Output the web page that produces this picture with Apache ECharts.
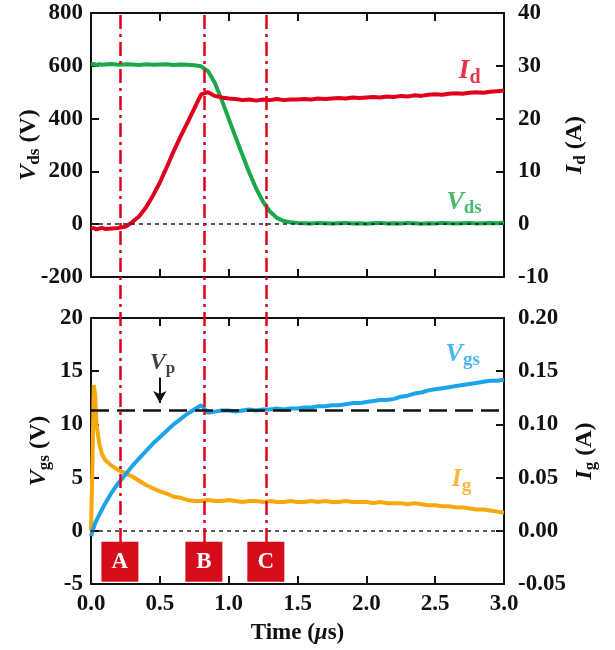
<!DOCTYPE html>
<html>
<head>
<meta charset="utf-8">
<script src="https://cdn.jsdelivr.net/npm/echarts@6/dist/echarts.min.js"></script>
<style>
  html, body { margin: 0; padding: 0; background: #fff; }
  #chart { width: 615px; height: 650px; }
</style>
</head>
<body>
<div id="chart"></div>
<script>
// time axis (µs)
var timeUs = [0, 0.01, 0.02, 0.03, 0.04, 0.06, 0.08, 0.10,
  0.15, 0.20, 0.25, 0.30, 0.35, 0.40, 0.45, 0.50, 0.55, 0.60, 0.65, 0.70, 0.75,
  0.80, 0.85, 0.90, 0.95, 1.00, 1.05, 1.10, 1.15, 1.20, 1.25, 1.30, 1.35, 1.40,
  1.45, 1.50, 1.55, 1.60, 1.65, 1.70, 1.75, 1.80, 1.85, 1.90, 1.95, 2.00, 2.05,
  2.10, 2.15, 2.20, 2.25, 2.30, 2.35, 2.40, 2.45, 2.50, 2.55, 2.60, 2.65, 2.70,
  2.75, 2.80, 2.85, 2.90, 2.95, 3.00];

// Vds (V) - top, left axis
var vds = [606, 604, 607, 605, 603, 606, 604, 605,
  607, 604, 606, 605, 603, 606, 604, 605, 606, 603, 605, 604, 602,
  598, 580, 535, 470, 400, 330, 262, 195, 135, 85, 48, 24, 12,
  7, 5, 4, 3, 5, 4, 3, 4, 5, 3, 4, 2, 4,
  5, 3, 4, 3, 5, 4, 2, 4, 3, 5, 4, 3, 4,
  5, 3, 4, 5, 4, 6];

// Id (A) - top, right axis
var id = [-0.8, -0.9, -0.7, -0.8, -1.0, -0.8, -0.7, -0.9,
  -0.8, -0.7, -0.5, 0.4, 1.5, 3.2, 5.4, 7.9, 10.8, 13.8, 16.6, 19.2, 21.9,
  24.6, 25.0, 24.3, 24.0, 23.8, 23.7, 23.5, 23.6, 23.4, 23.6, 23.5, 23.7, 23.5,
  23.6, 23.6, 23.7, 23.6, 23.8, 23.7, 23.8, 23.9, 23.8, 24.0, 23.9, 24.0, 24.1,
  24.0, 24.2, 24.1, 24.3, 24.2, 24.4, 24.3, 24.5, 24.6, 24.5, 24.7, 24.8, 24.7,
  24.9, 25.0, 24.9, 25.1, 25.2, 25.3];

// Vgs (V) - bottom, left axis
var vgs = [-0.5, -0.1, 0.3, 0.7, 1.0, 1.5, 2.0, 2.5,
  3.6, 4.5, 5.3, 6.1, 6.8, 7.5, 8.2, 8.8, 9.4, 10.0, 10.5, 11.0, 11.4,
  11.8, 11.1, 11.2, 11.3, 11.3, 11.2, 11.3, 11.4, 11.3, 11.4, 11.4, 11.5, 11.4,
  11.5, 11.5, 11.6, 11.6, 11.7, 11.7, 11.8, 11.8, 11.9, 12.0, 12.0, 12.1, 12.2,
  12.3, 12.3, 12.4, 12.6, 12.7, 12.9, 13.0, 13.2, 13.3, 13.4, 13.5, 13.6, 13.7,
  13.8, 13.9, 14.0, 14.1, 14.1, 14.2];

// Ig (A) - bottom, right axis
var ig = [0.000, 0.060, 0.137, 0.128, 0.100, 0.082, 0.072, 0.067,
  0.061, 0.057, 0.054, 0.051, 0.047, 0.043, 0.040, 0.037, 0.035, 0.032, 0.031, 0.029, 0.028,
  0.028, 0.029, 0.028, 0.028, 0.029, 0.028, 0.027, 0.028, 0.028, 0.027, 0.028, 0.027, 0.027,
  0.028, 0.027, 0.027, 0.028, 0.027, 0.028, 0.027, 0.027, 0.028, 0.027, 0.027, 0.027, 0.026,
  0.027, 0.026, 0.026, 0.026, 0.025, 0.026, 0.025, 0.024, 0.024, 0.023, 0.023, 0.022, 0.022,
  0.021, 0.020, 0.020, 0.019, 0.018, 0.017];

// switching phases
var phaseTimes = [0.21, 0.82, 1.27];
var phaseNames = ['A', 'B', 'C'];
var plateauVgs = 11.3;

var serif = '"Liberation Serif", "Times New Roman", serif';
var RED = '#e0001b', GREEN = '#19a84a', BLUE = '#1ca4ea', ORANGE = '#f6a80c';

function pairs(xs, ys) {
  return xs.map(function (x, i) { return [x, ys[i]]; });
}

// rich styles for V_ds style labels
function richSet(color, big, small) {
  return {
    i: { fontFamily: serif, fontStyle: 'italic', fontWeight: 'bold', fontSize: big, color: color },
    s: { fontFamily: serif, fontWeight: 'bold', fontSize: small, color: color, padding: [Math.round(big * 0.45), 0, 0, 0] },
    n: { fontFamily: serif, fontWeight: 'bold', fontSize: big, color: color }
  };
}

var tickLabel = { fontFamily: serif, fontWeight: 'bold', fontSize: 23, color: '#111' };
var axisLineStyle = { show: true, onZero: false, lineStyle: { color: '#111', width: 2 } };
var tickStyle = { show: true, inside: true, length: 8, lineStyle: { color: '#111', width: 2 } };

function xAx(grid, pos, labels) {
  return {
    type: 'value', gridIndex: grid, position: pos, min: 0, max: 3, interval: 0.5,
    axisLine: axisLineStyle, axisTick: tickStyle, splitLine: { show: false },
    axisLabel: labels ? Object.assign({ margin: 9, formatter: function (v) { return v.toFixed(1); } }, tickLabel) : { show: false }
  };
}

function yAx(grid, pos, min, max, step, digits, name, gap) {
  return {
    type: 'value', gridIndex: grid, position: pos, min: min, max: max, interval: step,
    axisLine: axisLineStyle, axisTick: tickStyle, splitLine: { show: false },
    axisLabel: Object.assign({ margin: pos === 'left' ? 8 : 14, formatter: function (v) { return v.toFixed(digits); } }, tickLabel),
    name: name, nameLocation: 'middle', nameRotate: 90, nameGap: gap, nameMoveOverlap: false,
    nameTextStyle: { rich: richSet('#111', 24, 17) }
  };
}

function tag(x, y, xi, yi, text, color, big, small) {
  return {
    type: 'scatter', xAxisIndex: xi, yAxisIndex: yi, symbolSize: 0, silent: true, z: 5,
    data: [[x, y]],
    label: { show: true, position: 'inside', formatter: text, rich: richSet(color, big, small) }
  };
}

var option = {
  animation: false,
  grid: [
    { left: 91, right: 111, top: 13, height: 264, outerBoundsMode: 'none' },
    { left: 91, right: 111, top: 318, height: 266, outerBoundsMode: 'none' },
    { left: 91, right: 111, top: 12, height: 530, outerBoundsMode: 'none' }   // overlay for the phase lines
  ],
  xAxis: [
    xAx(0, 'bottom', false),
    xAx(0, 'top', false),
    Object.assign(xAx(1, 'bottom', true), {
      name: '{n|Time (}{m|μ}{n|s)}', nameLocation: 'middle', nameGap: 38, nameMoveOverlap: false,
      nameTextStyle: { rich: {
        n: { fontFamily: serif, fontWeight: 'bold', fontSize: 23, color: '#111' },
        m: { fontFamily: serif, fontWeight: 'bold', fontStyle: 'italic', fontSize: 23, color: '#111' }
      } }
    }),
    xAx(1, 'top', false),
    { type: 'value', gridIndex: 2, min: 0, max: 3, show: false }
  ],
  yAxis: [
    yAx(0, 'left', -200, 800, 200, 0, '{i|V}{s|ds}{n| (V)}', 48),
    yAx(0, 'right', -10, 40, 10, 0, '{i|I}{s|d}{n| (A)}', 57),
    yAx(1, 'left', -5, 20, 5, 0, '{i|V}{s|gs}{n| (V)}', 38),
    yAx(1, 'right', -0.05, 0.20, 0.05, 2, '{i|I}{s|g}{n| (A)}', 67),
    { type: 'value', gridIndex: 2, min: 0, max: 1, show: false }
  ],
  series: [
    {
      name: 'Vds', type: 'line', xAxisIndex: 0, yAxisIndex: 0, showSymbol: false,
      data: pairs(timeUs, vds), lineStyle: { color: GREEN, width: 4 }, z: 3,
      markLine: {
        silent: true, symbol: 'none', label: { show: false },
        lineStyle: { color: '#222', type: [4, 4], width: 1.5 },
        data: [{ yAxis: 0 }]
      }
    },
    {
      name: 'Id', type: 'line', xAxisIndex: 0, yAxisIndex: 1, showSymbol: false,
      data: pairs(timeUs, id), lineStyle: { color: RED, width: 4 }, z: 3
    },
    {
      name: 'Ig', type: 'line', xAxisIndex: 2, yAxisIndex: 3, showSymbol: false,
      data: pairs(timeUs, ig), lineStyle: { color: ORANGE, width: 4 }, z: 3,
      markLine: {
        silent: true, symbol: 'none', label: { show: false },
        lineStyle: { color: '#222', type: [4, 4], width: 1.5 },
        data: [{ yAxis: 0 }]
      }
    },
    {
      name: 'Vgs', type: 'line', xAxisIndex: 2, yAxisIndex: 2, showSymbol: false,
      data: pairs(timeUs, vgs), lineStyle: { color: BLUE, width: 4 }, z: 3,
      markLine: {
        silent: true, symbol: 'none', label: { show: false },
        data: [
          { yAxis: plateauVgs, lineStyle: { color: '#111', type: [18, 8], width: 2.5 } },
          [
            { coord: [0.5, 14.4], symbol: 'none', lineStyle: { color: '#111', width: 2, type: 'solid' } },
            { coord: [0.5, 12.0], symbol: 'arrow', symbolSize: [10, 12] }
          ]
        ]
      }
    },
    // vertical dash-dot phase lines across both panels
    {
      type: 'line', xAxisIndex: 4, yAxisIndex: 4, data: [], z: 4,
      markLine: {
        silent: true, symbol: 'none', label: { show: false },
        lineStyle: { color: RED, type: [14, 5, 3, 5], width: 2.5 },
        data: phaseTimes.map(function (t) { return { xAxis: t }; })
      }
    },
    // phase boxes A B C
    {
      type: 'scatter', xAxisIndex: 2, yAxisIndex: 2, symbol: 'rect', symbolSize: [37, 40], z: 6,
      itemStyle: { color: '#d50c1a', opacity: 1 },
      data: phaseTimes.map(function (t, i) { return { value: [t, -2.9], name: phaseNames[i] }; }),
      label: {
        show: true, position: 'inside', formatter: '{b}',
        fontFamily: serif, fontWeight: 'bold', fontSize: 23, color: '#fff'
      }
    },
    tag(2.75, 29, 0, 1, '{i|I}{s|d}', RED, 28, 20),
    tag(2.71, 4.2, 0, 1, '{i|V}{s|ds}', GREEN, 26, 19),
    tag(2.70, 16.6, 2, 2, '{i|V}{s|gs}', BLUE, 26, 19),
    tag(2.69, 4.8, 2, 2, '{i|I}{s|g}', ORANGE, 26, 19),
    tag(0.52, 15.8, 2, 2, '{i|V}{s|p}', '#111', 24, 17)
  ]
};

var chartObj = echarts.init(document.getElementById('chart'));
chartObj.setOption(option);
</script>
</body>
</html>
